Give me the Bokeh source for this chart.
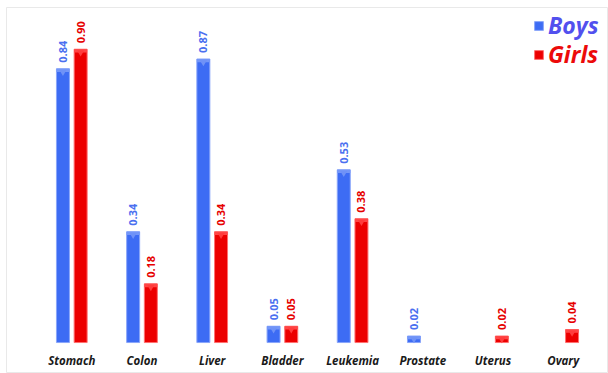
import numpy as np
from bokeh.plotting import figure
from bokeh.models import ColumnDataSource, Range1d, FixedTicker, Legend, LegendItem
from bokeh.core.properties import value
from bokeh.transform import dodge
from bokeh.embed import file_html
from bokeh.resources import INLINE

categories = ["Stomach", "Colon", "Liver", "Bladder", "Leukemia", "Prostate", "Uterus", "Ovary"]
boys = [0.84, 0.34, 0.87, 0.05, 0.53, 0.02, 0.0, 0.0]
girls = [0.90, 0.18, 0.34, 0.05, 0.38, 0.0, 0.02, 0.04]
series = ["Boys", "Girls"]

FONT = value("Open Sans")
BAR_W = 0.185
OFF = 0.126
CAP = 0.01

styles = {
    "Boys": dict(fill="#3d6cf4", line="#8aa6fa", cap="#7396f8", tri="#6f92f7", text="#4a6ff0", legend="#5250ee", off=-OFF),
    "Girls": dict(fill="#ec0000", line="#ff7070", cap="#ff4545", tri="#ff3c3c", text="#e60000", legend="#ec0a0a", off=OFF),
}

p = figure(width=608, height=373, output_backend="svg", toolbar_location=None,
           x_range=Range1d(-0.93, 7.645), y_range=Range1d(-0.095, 1.028),
           y_axis_location=None, min_border_left=6, min_border_top=7,
           min_border_right=0, min_border_bottom=0)
p.background_fill_color = "white"
p.border_fill_color = "white"
p.outline_line_color = "#e9e9e9"
p.outline_line_width = 1
p.xgrid.visible = False
p.ygrid.visible = False

ax = p.xaxis[0]
ax.fixed_location = 0
ax.ticker = FixedTicker(ticks=list(range(len(categories))))
ax.major_label_overrides = {i: c for i, c in enumerate(categories)}
ax.axis_line_color = None
ax.major_tick_line_color = None
ax.minor_tick_line_color = None
ax.major_label_standoff = 4
ax.major_label_text_font = "Open Sans"
ax.major_label_text_font_style = "bold italic"
ax.major_label_text_font_size = "11.5px"
ax.major_label_text_color = "#1a1a1a"

renderers = {}
for name, vals in zip(series, [boys, girls]):
    st = styles[name]
    idx = [i for i, v in enumerate(vals) if v > 0]
    src = ColumnDataSource(dict(
        x=idx,
        v=[vals[i] for i in idx],
        cb=[vals[i] - CAP for i in idx],
        tm=[vals[i] - CAP for i in idx],
        lbl=[f"{vals[i]:.2f}" for i in idx],
    ))
    r = p.vbar(x=dodge("x", st["off"]), top="v", bottom=0, width=BAR_W, source=src,
               fill_color=st["fill"], line_color=st["line"], line_width=1)
    p.vbar(x=dodge("x", st["off"]), top="v", bottom="cb", width=BAR_W, source=src,
           fill_color=st["cap"], line_color=None)
    p.scatter(x=dodge("x", st["off"]), y="tm", source=src, marker="inverted_triangle",
              size=7, fill_color=st["tri"], line_color=None)
    p.text(x=dodge("x", st["off"]), y="v", text="lbl", source=src, angle=np.pi / 2,
           text_align="left", text_baseline="middle", y_offset=-6,
           text_font=FONT, text_font_style="bold", text_font_size="11px",
           text_color=st["text"])
    renderers[name] = r

ypos = {"Boys": 332, "Girls": 303}
for name in series:
    st = styles[name]
    lg = Legend(items=[LegendItem(label=name, renderers=[renderers[name]])],
                location=(527, ypos[name]), orientation="vertical",
                glyph_width=11, glyph_height=11, label_standoff=4,
                padding=0, margin=0, spacing=0,
                border_line_color=None, background_fill_alpha=0,
                label_text_font="Open Sans", label_text_font_style="bold italic",
                label_text_font_size="23px", label_text_color=st["legend"])
    p.add_layout(lg, "center")

open("out.html", "w").write(file_html(p, INLINE))
